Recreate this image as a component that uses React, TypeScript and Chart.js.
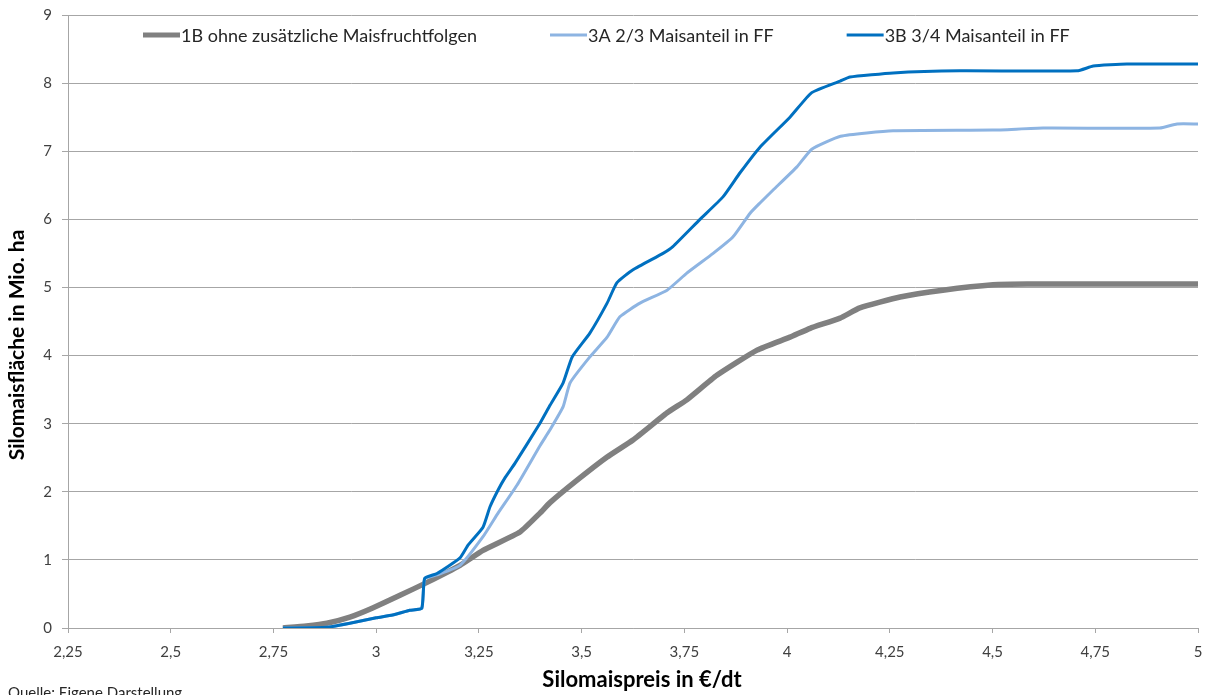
import { useEffect, useRef } from "react"
import { Chart, type ChartConfiguration, type Plugin, registerables } from "chart.js"

Chart.register(...registerables)

// Silomaispreis (€/dt) und Silomaisfläche (Mio. ha) je Szenario
const price1B = [2.773, 2.83, 2.88, 2.936, 2.99, 3.058, 3.124, 3.204, 3.26, 3.35, 3.399, 3.423, 3.489, 3.562, 3.625, 3.708, 3.756, 3.829, 3.927, 4.007, 4.056, 4.129, 4.177, 4.275, 4.379, 4.501, 4.584, 5.0]
const area1B = [0, 0.03, 0.07, 0.16, 0.29, 0.48, 0.67, 0.92, 1.14, 1.41, 1.69, 1.84, 2.17, 2.51, 2.76, 3.16, 3.35, 3.71, 4.08, 4.27, 4.4, 4.55, 4.7, 4.86, 4.96, 5.04, 5.05, 5.05]

const price3A = [2.773, 2.88, 2.936, 3.0, 3.04, 3.082, 3.111, 3.118, 3.148, 3.204, 3.26, 3.297, 3.343, 3.399, 3.423, 3.455, 3.472, 3.52, 3.562, 3.593, 3.642, 3.708, 3.756, 3.82, 3.868, 3.91, 3.934, 3.966, 4.024, 4.06, 4.13, 4.258, 4.5, 4.623, 4.907, 4.949, 5.0]
const area3A = [0, 0.01, 0.07, 0.15, 0.19, 0.26, 0.29, 0.72, 0.78, 0.92, 1.34, 1.69, 2.1, 2.68, 2.91, 3.25, 3.6, 3.98, 4.27, 4.57, 4.77, 4.96, 5.21, 5.5, 5.74, 6.09, 6.24, 6.43, 6.77, 7.03, 7.22, 7.3, 7.31, 7.34, 7.34, 7.4, 7.4]

const price3B = [2.773, 2.88, 2.936, 3.0, 3.04, 3.082, 3.111, 3.118, 3.148, 3.204, 3.224, 3.26, 3.277, 3.297, 3.313, 3.338, 3.399, 3.423, 3.455, 3.477, 3.52, 3.562, 3.586, 3.625, 3.698, 3.722, 3.788, 3.844, 3.885, 3.934, 4.007, 4.06, 4.129, 4.153, 4.258, 4.42, 4.706, 4.745, 4.827, 5.0]
const area3B = [0, 0.01, 0.07, 0.15, 0.19, 0.26, 0.29, 0.73, 0.8, 1.03, 1.22, 1.48, 1.78, 2.03, 2.2, 2.42, 3.01, 3.27, 3.6, 3.98, 4.33, 4.77, 5.07, 5.26, 5.5, 5.6, 6.0, 6.33, 6.68, 7.06, 7.5, 7.86, 8.03, 8.09, 8.15, 8.18, 8.18, 8.25, 8.28, 8.28]

const seriesLabels = [
  "1B ohne zusätzliche Maisfruchtfolgen",
  "3A 2/3 Maisanteil in FF",
  "3B 3/4 Maisanteil in FF",
]
const xTicks = [2.25, 2.5, 2.75, 3, 3.25, 3.5, 3.75, 4, 4.25, 4.5, 4.75, 5]
const yTicks = [0, 1, 2, 3, 4, 5, 6, 7, 8, 9]

const xTitle = "Silomaispreis in €/dt"
const yTitle = "Silomaisfläche in Mio. ha"
const sourceNote = "Quelle: Eigene Darstellung"

const FONT = "Lato, 'Open Sans', sans-serif"
const GRID = "#a6a6a6"
const TEXT = "#262626"

const zip = (xs: number[], ys: number[]) => xs.map((x, i) => ({ x, y: ys[i] }))

// Legende in der Zeichenfläche, Achsentitel und Quellenangabe
const extrasPlugin: Plugin<"line"> = {
  id: "extras",
  afterDraw(chart) {
    const { ctx } = chart
    ctx.save()

    // legend
    ctx.font = `18px ${FONT}`
    ctx.textBaseline = "middle"
    ctx.textAlign = "left"
    let x = 143
    const y = 35
    chart.data.datasets.forEach((ds) => {
      ctx.strokeStyle = ds.borderColor as string
      ctx.lineWidth = Math.min(ds.borderWidth as number, 5)
      ctx.beginPath()
      ctx.moveTo(x, y)
      ctx.lineTo(x + 37, y)
      ctx.stroke()
      ctx.fillStyle = TEXT
      const label = ds.label ?? ""
      ctx.fillText(label, x + 38, y + 1)
      x += 38 + ctx.measureText(label).width + 73
    })

    // axis titles
    ctx.fillStyle = "#000"
    ctx.font = `bold 22px ${FONT}`
    ctx.textAlign = "center"
    ctx.textBaseline = "alphabetic"
    ctx.fillText(xTitle, 642, 687)

    ctx.font = `bold 21px ${FONT}`
    ctx.translate(24, 345)
    ctx.rotate(-Math.PI / 2)
    ctx.fillText(yTitle, 0, 0)
    ctx.restore()

    ctx.save()
    ctx.font = `15px ${FONT}`
    ctx.textAlign = "left"
    ctx.textBaseline = "top"
    ctx.fillStyle = TEXT
    ctx.fillText(sourceNote, 8, 686)
    ctx.restore()
  },
}

export default function App() {
  const canvasRef = useRef<HTMLCanvasElement>(null)
  const chartRef = useRef<Chart<"line"> | null>(null)

  useEffect(() => {
    if (!canvasRef.current) return
    if (chartRef.current) chartRef.current.destroy()

    const config: ChartConfiguration<"line"> = {
      type: "line",
      data: {
        datasets: [
          {
            label: seriesLabels[0],
            data: zip(price1B, area1B),
            borderColor: "#808080",
            borderWidth: 5.5,
            pointRadius: 0,
            order: 3,
          },
          {
            label: seriesLabels[1],
            data: zip(price3A, area3A),
            borderColor: "#8db4e2",
            borderWidth: 3,
            pointRadius: 0,
            order: 2,
          },
          {
            label: seriesLabels[2],
            data: zip(price3B, area3B),
            borderColor: "#0070c0",
            borderWidth: 3,
            pointRadius: 0,
            order: 1,
          },
        ],
      },
      options: {
        responsive: true,
        maintainAspectRatio: false,
        animation: false,
        layout: { padding: { top: 15, right: 13, left: 0, bottom: 0 } },
        elements: { line: { tension: 0.15, borderJoinStyle: "round", borderCapStyle: "butt" } },
        plugins: {
          legend: { display: false },
          tooltip: { enabled: false },
        },
        scales: {
          x: {
            type: "linear",
            min: 2.25,
            max: 5,
            afterBuildTicks: (scale) => {
              scale.ticks = xTicks.map((value) => ({ value }))
            },
            afterFit: (scale) => {
              scale.height = 67
              scale.paddingLeft = 0
              scale.paddingRight = 0
            },
            grid: { drawOnChartArea: false, drawTicks: true, tickLength: 5, color: GRID },
            border: { display: true, color: GRID },
            ticks: {
              padding: 10,
              color: "#404040",
              font: { family: FONT, size: 15 },
              callback: (value) => String(value).replace(".", ","),
            },
          },
          y: {
            min: 0,
            max: 9,
            afterBuildTicks: (scale) => {
              scale.ticks = yTicks.map((value) => ({ value }))
            },
            afterFit: (scale) => {
              scale.width = 68
              scale.paddingTop = 0
              scale.paddingBottom = 0
            },
            grid: { color: GRID, tickLength: 6 },
            border: { display: true, color: GRID },
            ticks: {
              padding: 10,
              color: "#404040",
              font: { family: FONT, size: 15 },
            },
          },
        },
      },
      plugins: [extrasPlugin],
    }

    chartRef.current = new Chart(canvasRef.current, config)

    return () => {
      if (chartRef.current) {
        chartRef.current.destroy()
        chartRef.current = null
      }
    }
  }, [])

  return (
    <div style={{ position: "absolute", left: 0, top: 0, width: 1211, height: 695, background: "#fff" }}>
      <canvas ref={canvasRef} />
    </div>
  )
}
